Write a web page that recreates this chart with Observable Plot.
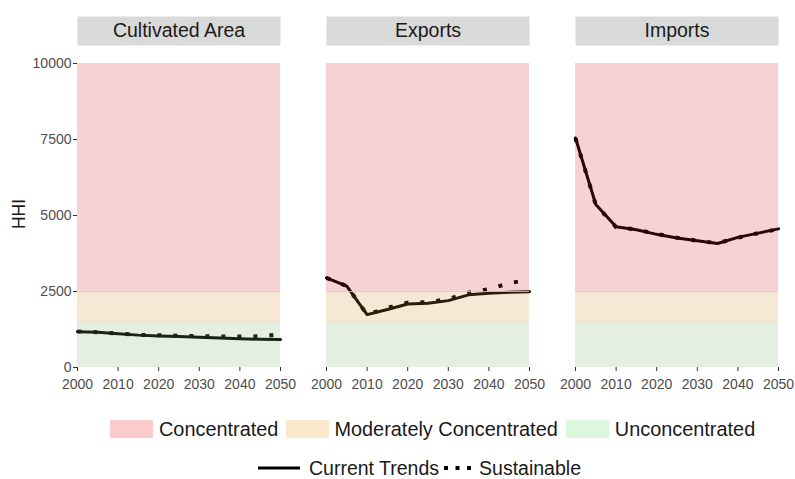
<!DOCTYPE html>
<html><head><meta charset="utf-8">
<script src="https://cdn.jsdelivr.net/npm/d3@7"></script>
<script src="https://cdn.jsdelivr.net/npm/@observablehq/plot@0.6"></script>
<style>
body{margin:0;background:#fff;font-family:"Liberation Sans",Arial,Helvetica,sans-serif;}
#wrap{position:relative;width:795px;height:479px;overflow:hidden;}
#chart{position:absolute;left:0;top:0;}
.ylab{position:absolute;left:18.5px;top:214px;transform:translate(-50%,-50%) rotate(-90deg);font-size:17.5px;color:#1a1a1a;white-space:nowrap;}
.row{position:absolute;display:flex;align-items:center;font-size:19.5px;color:#1a1a1a;white-space:nowrap;}
.sw{width:43px;height:18px;display:inline-block;}
</style></head><body><div id="wrap"><div id="chart"></div><div class="ylab">HHI</div>
<div class="row" id="leg1" style="left:110px;top:416px;height:26px;font-size:19.9px;"></div>
<div class="row" id="leg2" style="left:258px;top:455px;height:26px;"></div>
</div>
<script>
const indicators = ["Cultivated Area", "Exports", "Imports"];
const years = [2000, 2005, 2010, 2015, 2020, 2025, 2030, 2035, 2040, 2045, 2050];
const scenarios = ["Current Trends", "Sustainable"];

const cultivatedCurrent     = [1180, 1160, 1110, 1065, 1040, 1020, 995, 970, 945, 930, 920];
const cultivatedSustainable = [1185, 1160, 1115, 1070, 1060, 1045, 1030, 1020, 1020, 1025, 1090];
const exportsCurrent        = [2950, 2680, 1740, 1910, 2090, 2110, 2200, 2390, 2440, 2475, 2495];
const exportsSustainable    = [2950, 2680, 1740, 1960, 2135, 2150, 2250, 2460, 2580, 2770, 2900];
const importsCurrent        = [7550, 5360, 4630, 4530, 4380, 4260, 4170, 4080, 4280, 4420, 4560];
const importsSustainable    = [7540, 5350, 4620, 4540, 4390, 4270, 4170, 4090, 4270, 4420, 4550];

const bandNames = ["Concentrated", "Moderately Concentrated", "Unconcentrated"];
const bandLow  = [2500, 1500, 0];
const bandHigh = [10000, 2500, 1500];

const yTicks = [0, 2500, 5000, 7500, 10000];
const xTicks = [2000, 2010, 2020, 2030, 2040, 2050];

// styles
const overlayColors = ["#d21e1e", "#d7872d", "#7daf69"];
const legendColors  = ["#fccbcb", "#fce9cb", "#dcf8dc"];
const boundaryColors = ["#f0bab3", "#ecdcc1"];

const series = [
  [cultivatedCurrent, cultivatedSustainable],
  [exportsCurrent, exportsSustainable],
  [importsCurrent, importsSustainable]
];
const rows = [];
indicators.forEach((ind, i) => {
  scenarios.forEach((sc, j) => {
    years.forEach((yr, k) => rows.push({indicator: ind, scenario: sc, year: yr, hhi: series[i][j][k]}));
  });
});
const bands = bandNames.map((b, i) => ({band: b, lo: bandLow[i], hi: bandHigh[i]}));

const chart = Plot.plot({
  width: 795, height: 400,
  marginTop: 63, marginBottom: 33, marginLeft: 77, marginRight: 17,
  style: {fontFamily: '"Liberation Sans", Arial, Helvetica, sans-serif', fontSize: "14px", color: "#4d4d4d", background: "transparent"},
  fx: {domain: indicators, paddingInner: 46/249, paddingOuter: 0, axis: null, label: null},
  x: {domain: [d3.min(years), d3.max(years)]},
  y: {domain: [d3.min(yTicks), d3.max(yTicks)]},
  marks: [
    Plot.frame({fill: "#d9d9d9", stroke: "none", insetTop: -47, insetBottom: 322}),
    Plot.line(rows.filter(d => d.scenario === scenarios[0]), {fx: "indicator", x: "year", y: "hhi", stroke: "#000", strokeWidth: 3}),
    Plot.line(rows.filter(d => d.scenario === scenarios[1]), {fx: "indicator", x: "year", y: "hhi", stroke: "#000", strokeWidth: 4, strokeDasharray: "4 12", strokeLinecap: "butt"}),
    ...bands.map((b, i) => Plot.rect([b], {y1: "lo", y2: "hi", fill: overlayColors[i], fillOpacity: 0.2})),
    Plot.ruleY([bandLow[0]], {stroke: boundaryColors[0], strokeWidth: 0.8}),
    Plot.ruleY([bandLow[1]], {stroke: boundaryColors[1], strokeWidth: 0.8}),
    Plot.text(indicators, {fx: d => d, text: d => d, frameAnchor: "top", lineAnchor: "middle", dy: -32.5, fontSize: 19.5, fill: "#1a1a1a"}),
    Plot.axisY({ticks: yTicks, tickFormat: d => String(d), tickSize: 4, tickPadding: 2, label: null, stroke: "#333", fill: "#4d4d4d"}),
    Plot.axisX({ticks: xTicks, tickFormat: d => String(d), tickSize: 4, tickPadding: 8, label: null, stroke: "#333", fill: "#4d4d4d"})
  ]
});
document.getElementById("chart").appendChild(chart);

// colour legend
const leg1 = document.getElementById("leg1");
const gaps1 = [6, 5, 6];
bandNames.forEach((b, i) => {
  const sw = document.createElement("span");
  sw.className = "sw";
  sw.style.background = legendColors[i];
  sw.style.marginLeft = i === 0 ? "0px" : "8px";
  const t = document.createElement("span");
  t.textContent = b;
  t.style.marginLeft = gaps1[i] + "px";
  leg1.appendChild(sw); leg1.appendChild(t);
});

// line legend
const leg2 = document.getElementById("leg2");
const keys = [
  '<svg width="42" height="10"><line x1="0" x2="42" y1="5" y2="5" stroke="#000" stroke-width="3"/></svg>',
  '<svg width="28" height="10"><line x1="1" x2="28" y1="5" y2="5" stroke="#000" stroke-width="4" stroke-dasharray="4 7.5"/></svg>'
];
const gapsBefore = [0, 4];
const gapsAfter = [9, 8];
scenarios.forEach((s, i) => {
  const k = document.createElement("span");
  k.innerHTML = keys[i];
  k.style.display = "inline-flex";
  k.style.marginLeft = gapsBefore[i] + "px";
  const t = document.createElement("span");
  t.textContent = s;
  t.style.marginLeft = gapsAfter[i] + "px";
  leg2.appendChild(k); leg2.appendChild(t);
});
</script></body></html>
